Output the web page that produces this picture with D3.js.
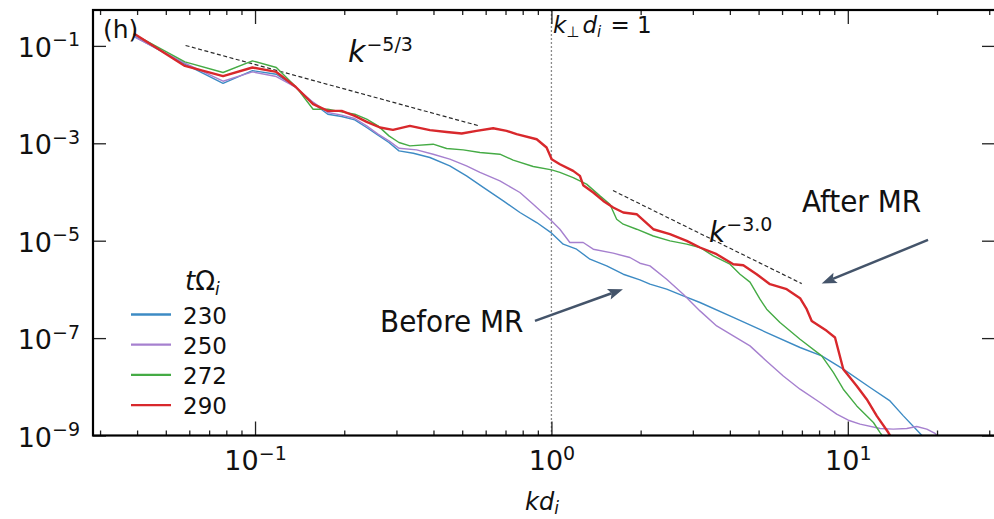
<!DOCTYPE html>
<html>
<head>
<meta charset="utf-8">
<script src="https://cdn.jsdelivr.net/npm/d3@7"></script>
<style>
  body { margin: 0; background: #fff; }
  svg { display: block; }
  text { font-family: "DejaVu Sans", sans-serif; fill: #111; }
</style>
</head>
<body>
<svg id="chart" width="994" height="519"></svg>
<script>
// Magnetic energy spectra E(k d_i) at four times t·Ω_i  — pairs are [k d_i, E]
const s230 = [[0.039,0.158],[0.058,0.0421],[0.078,0.0170],[0.098,0.0310],[0.118,0.0262],[0.137,0.0142],
  [0.157,0.00666],[0.176,0.00396],[0.196,0.00355],[0.217,0.00302],[0.238,0.00211],[0.260,0.00147],
  [0.283,0.00104],[0.306,6.98e-4],[0.342,6.26e-4],[0.389,5.11e-4],[0.454,3.44e-4],[0.517,2.14e-4],
  [0.589,1.24e-4],[0.688,6.57e-5],[0.783,3.79e-5],[0.892,2.36e-5],[1.002,1.43e-5],[1.096,8.48e-6],
  [1.216,6.69e-6],[1.349,4.17e-6],[1.536,3.04e-6],[1.747,2.05e-6],[1.989,1.57e-6],[2.150,1.28e-6],
  [2.448,1.01e-6],[2.785,7.35e-7],[3.171,5.38e-7],[4.108,2.65e-7],[5.324,1.30e-7],[6.900,6.41e-8],
  [8.165,4.31e-8],[9.656,2.30e-8],[11.89,9.67e-9],[13.88,5.13e-9],[15.40,2.53e-9],[17.53,1.10e-9],[19.0,6.6e-10]];

const s250 = [[0.039,0.155],[0.058,0.0441],[0.078,0.0188],[0.098,0.0292],[0.118,0.0235],[0.137,0.0142],
  [0.157,0.00698],[0.176,0.00429],[0.196,0.00378],[0.217,0.00323],[0.238,0.00228],[0.260,0.00154],
  [0.283,0.00112],[0.306,7.93e-4],[0.351,7.32e-4],[0.399,5.97e-4],[0.454,4.72e-4],[0.517,3.44e-4],
  [0.574,2.52e-4],[0.670,1.69e-4],[0.783,9.77e-5],[0.868,5.62e-5],[1.002,2.55e-5],[1.068,1.72e-5],
  [1.154,9.18e-6],[1.280,9.18e-6],[1.384,6.69e-6],[1.616,5.54e-6],[1.840,4.52e-6],[1.989,3.45e-6],
  [2.150,3.04e-6],[2.448,1.62e-6],[2.785,7.97e-7],[3.171,3.62e-7],[3.610,1.78e-7],[4.108,1.11e-7],
  [4.677,6.92e-8],[5.324,3.35e-8],[6.057,1.67e-8],[6.900,8.93e-9],[8.058,4.76e-9],[9.173,2.74e-9],
  [10.04,2.06e-9],[11.00,1.71e-9],[12.85,1.39e-9],[14.24,1.35e-9],[15.81,1.39e-9],[17.08,1.53e-9],
  [18.47,1.35e-9],[19.70,1.10e-9],[21.28,7.0e-10]];

const s272 = [[0.039,0.174],[0.058,0.0469],[0.078,0.0284],[0.098,0.0492],[0.118,0.0360],[0.137,0.0147],
  [0.157,0.00501],[0.176,0.00501],[0.196,0.00441],[0.217,0.00396],[0.238,0.00313],[0.260,0.00228],
  [0.283,0.00142],[0.306,0.00104],[0.333,8.84e-4],[0.399,9.58e-4],[0.443,7.82e-4],[0.504,7.32e-4],
  [0.574,6.47e-4],[0.670,5.97e-4],[0.743,4.50e-4],[0.868,3.34e-4],[1.002,2.84e-4],[1.068,2.52e-4],
  [1.184,1.98e-4],[1.314,1.45e-4],[1.458,8.32e-5],[1.575,5.62e-5],[1.660,2.76e-5],[1.747,2.18e-5],
  [1.939,1.72e-5],[2.206,1.25e-5],[2.511,9.91e-6],[2.860,8.48e-6],[3.171,7.25e-6],[3.516,4.87e-6],
  [4.004,3.29e-6],[4.328,2.05e-6],[4.677,1.41e-6],[5.055,6.29e-7],[5.324,3.92e-7],[5.904,2.09e-7],
  [6.900,9.49e-8],[8.165,4.31e-8],[8.935,1.97e-8],[9.656,8.93e-9],[10.72,4.05e-9],[12.20,1.85e-9],
  [12.85,1.15e-9],[13.70,6.6e-10]];

const s290 = [[0.039,0.180],[0.058,0.0388],[0.078,0.0239],[0.098,0.0360],[0.118,0.0292],[0.137,0.0145],
  [0.157,0.00635],[0.176,0.00463],[0.196,0.00463],[0.217,0.00365],[0.238,0.00275],[0.264,0.00211],
  [0.292,0.00189],[0.333,0.00228],[0.389,0.00186],[0.443,0.00171],[0.498,0.00159],[0.559,0.00180],
  [0.636,0.00204],[0.706,0.00180],[0.763,0.00154],[0.892,0.00121],[0.963,8.2e-4],[1.002,4.72e-4],
  [1.068,3.72e-4],[1.184,2.71e-4],[1.248,2.14e-4],[1.280,1.38e-4],[1.384,9.77e-5],[1.496,6.57e-5],
  [1.616,4.80e-5],[1.747,3.79e-5],[1.939,3.50e-5],[2.206,1.72e-5],[2.511,1.36e-5],[2.860,9.91e-6],
  [3.171,7.25e-6],[3.610,5.28e-6],[4.108,3.29e-6],[4.440,3.14e-6],[4.926,2.05e-6],[5.462,1.28e-6],
  [6.220,1.01e-6],[6.900,6.60e-7],[7.267,3.92e-7],[7.555,2.25e-7],[8.488,1.41e-7],[9.053,1.03e-7],
  [9.656,2.30e-8],[10.72,1.04e-8],[11.58,5.56e-9],[12.52,2.53e-9],[13.70,1.15e-9],[14.43,6.6e-10]];

const seriesLabels = ["230", "250", "272", "290"];
const seriesColors = ["#3d8bc4", "#a680cf", "#45ab45", "#d8282c"];
const seriesWidths = [1.4, 1.4, 1.4, 2.4];

// Power-law guide lines: [k start, k end, E at start, exponent]
const guideLines = [[0.0583, 0.574, 0.102, -5/3], [1.613, 6.99, 1.07e-4, -3.0]];

const xMajorTicks = [0.1, 1, 10];
const xMinorTicks = [0.03,0.04,0.05,0.06,0.07,0.08,0.09,0.2,0.3,0.4,0.5,0.6,0.7,0.8,0.9,2,3,4,5,6,7,8,9,20,30];
const yTicks = [1e-1, 1e-3, 1e-5, 1e-7, 1e-9];

// Arrow annotations, endpoints in data space: [k tail, E tail, k head, E head]
const arrows = [[0.880, 2.25e-7, 1.743, 1.01e-6], [18.65, 1.04e-5, 8.165, 1.32e-6]];

const svg = d3.select("#chart");
const L = 93, R = 996, T = 10, B = 435.5;

const x = d3.scaleLog().domain([Math.pow(10, -1.5467), Math.pow(10, 1.5)]).range([L, R]);
const y = d3.scaleLog().domain([1e-9, Math.pow(10, -0.263)]).range([B, T]);

svg.append("defs").append("clipPath").attr("id", "plotclip")
  .append("rect").attr("x", L).attr("y", T).attr("width", R - L).attr("height", B - T);

const plot = svg.append("g").attr("clip-path", "url(#plotclip)");

// vertical marker at k_perp d_i = 1
plot.append("line")
  .attr("x1", x(1)).attr("x2", x(1)).attr("y1", T).attr("y2", B)
  .attr("stroke", "#8a8a8a").attr("stroke-width", 1.3).attr("stroke-dasharray", "2,2");

// power-law guides
guideLines.forEach(([k0, k1, e0, p]) => {
  plot.append("line")
    .attr("x1", x(k0)).attr("y1", y(e0))
    .attr("x2", x(k1)).attr("y2", y(e0 * Math.pow(k1 / k0, p)))
    .attr("stroke", "#2a2a2a").attr("stroke-width", 1.2).attr("stroke-dasharray", "4,2.5");
});

// spectra
const line = d3.line().x(d => x(d[0])).y(d => y(d[1]));
[s230, s250, s272, s290].forEach((s, i) => {
  plot.append("path").datum(s)
    .attr("d", line)
    .attr("fill", "none")
    .attr("stroke", seriesColors[i])
    .attr("stroke-width", seriesWidths[i])
    .attr("stroke-linejoin", "round");
});

// axes (inward ticks on all four sides)
const sup = (t, d) => {
  const e = Math.round(Math.log10(d));
  t.text(null);
  t.append("tspan").text("10");
  t.append("tspan").attr("dy", -10.5).attr("font-size", 19).text(String(e).replace("-", "\u2212"));
};
function styleAxis(g) {
  g.attr("font-family", null).attr("font-size", null);
  g.select(".domain").remove();
  g.selectAll(".tick line").attr("stroke", "#222").attr("stroke-width", 1.3);
}

const xb = svg.append("g").attr("transform", `translate(0,${B})`)
  .call(d3.axisBottom(x).tickValues(xMajorTicks).tickSize(-14).tickPadding(0));
styleAxis(xb);
xb.selectAll(".tick text").attr("y", 34.5).attr("dy", 0).attr("font-size", 27)
  .each(function(d) { sup(d3.select(this), d); });

svg.append("g").attr("transform", `translate(0,${B})`)
  .call(d3.axisBottom(x).tickValues(xMinorTicks).tickSize(-5).tickFormat(""))
  .call(styleAxis);

svg.append("g").attr("transform", `translate(0,${T})`)
  .call(d3.axisTop(x).tickValues(xMajorTicks).tickSize(-14).tickFormat(""))
  .call(styleAxis);
svg.append("g").attr("transform", `translate(0,${T})`)
  .call(d3.axisTop(x).tickValues(xMinorTicks).tickSize(-5).tickFormat(""))
  .call(styleAxis);

const yl = svg.append("g").attr("transform", `translate(${L},0)`)
  .call(d3.axisLeft(y).tickValues(yTicks).tickSize(-13).tickPadding(13));
styleAxis(yl);
yl.selectAll(".tick text").attr("dy", 10.5).attr("font-size", 27)
  .each(function(d) { sup(d3.select(this), d); });

svg.append("g").attr("transform", `translate(${R},0)`)
  .call(d3.axisRight(y).tickValues(yTicks).tickSize(-14).tickFormat(""))
  .call(styleAxis);

// spines
svg.append("rect").attr("x", L).attr("y", T).attr("width", R - L).attr("height", B - T)
  .attr("fill", "none").attr("stroke", "#000").attr("stroke-width", 2.2);

// axis label
const xl = svg.append("text").attr("x", 525).attr("y", 510).attr("font-size", 24);
xl.append("tspan").attr("font-style", "italic").text("kd");
xl.append("tspan").attr("font-style", "italic").attr("font-size", 17).attr("dy", 4).text("i");

// panel tag
svg.append("text").attr("x", 103).attr("y", 38).attr("font-size", 25).text("(h)");

// k_perp d_i = 1 label
const kl = svg.append("text").attr("x", 553).attr("y", 33).attr("font-size", 23);
kl.append("tspan").attr("font-style", "italic").text("k");
kl.append("tspan").attr("font-size", 15).attr("dy", 4).text("\u22A5");
kl.append("tspan").attr("font-style", "italic").attr("dy", -4).attr("dx", 3).text("d");
kl.append("tspan").attr("font-style", "italic").attr("font-size", 15).attr("dy", 4).text("i");
kl.append("tspan").attr("dy", -4).attr("dx", 2).text(" = 1");

// slope labels
function powerLabel(px, py, size, supText) {
  const t = svg.append("text").attr("x", px).attr("y", py).attr("font-size", size);
  t.append("tspan").attr("font-style", "italic").text("k");
  t.append("tspan").attr("font-size", 19).attr("dy", -size * 0.36).attr("dx", 1).text(supText);
}
powerLabel(348, 61.5, 30, "\u22125/3");
powerLabel(709, 241.5, 28, "\u22123.0");

// legend
const lg = svg.append("g");
const lt = lg.append("text").attr("x", 185).attr("y", 290).attr("font-size", 26);
lt.append("tspan").attr("font-style", "italic").text("t");
lt.append("tspan").text("\u03A9");
lt.append("tspan").attr("font-style", "italic").attr("font-size", 17).attr("dy", 5).text("i");
seriesLabels.forEach((lab, i) => {
  const yy = 314.5 + i * 30.2;
  lg.append("line").attr("x1", 131).attr("x2", 171).attr("y1", yy).attr("y2", yy)
    .attr("stroke", seriesColors[i]).attr("stroke-width", 2.3);
  lg.append("text").attr("x", 183).attr("y", yy + 9).attr("font-size", 23).text(lab);
});

// annotations
const noteFont = "'DejaVu Sans Condensed', 'DejaVu Sans', sans-serif";
svg.append("text").attr("x", 380).attr("y", 332).attr("font-size", 31)
  .attr("font-family", noteFont).attr("font-stretch", "condensed").text("Before MR");
svg.append("text").attr("x", 802).attr("y", 212).attr("font-size", 31)
  .attr("font-family", noteFont).attr("font-stretch", "condensed").text("After MR");

const arrowColor = "#44546a";
arrows.forEach(([k0, e0, k1, e1]) => {
  const x0 = x(k0), y0 = y(e0), x1 = x(k1), y1 = y(e1);
  const ang = Math.atan2(y1 - y0, x1 - x0);
  const hl = 15, hw = 5.5;
  const bx = x1 - hl * Math.cos(ang), by = y1 - hl * Math.sin(ang);
  const nx = -Math.sin(ang), ny = Math.cos(ang);
  const nxp = bx + 3 * Math.cos(ang), nyp = by + 3 * Math.sin(ang);
  svg.append("line").attr("x1", x0).attr("y1", y0).attr("x2", nxp).attr("y2", nyp)
    .attr("stroke", arrowColor).attr("stroke-width", 2.5);
  svg.append("path")
    .attr("d", `M${x1},${y1}L${bx + hw * nx},${by + hw * ny}L${nxp},${nyp}L${bx - hw * nx},${by - hw * ny}Z`)
    .attr("fill", arrowColor);
});
</script>
</body>
</html>
